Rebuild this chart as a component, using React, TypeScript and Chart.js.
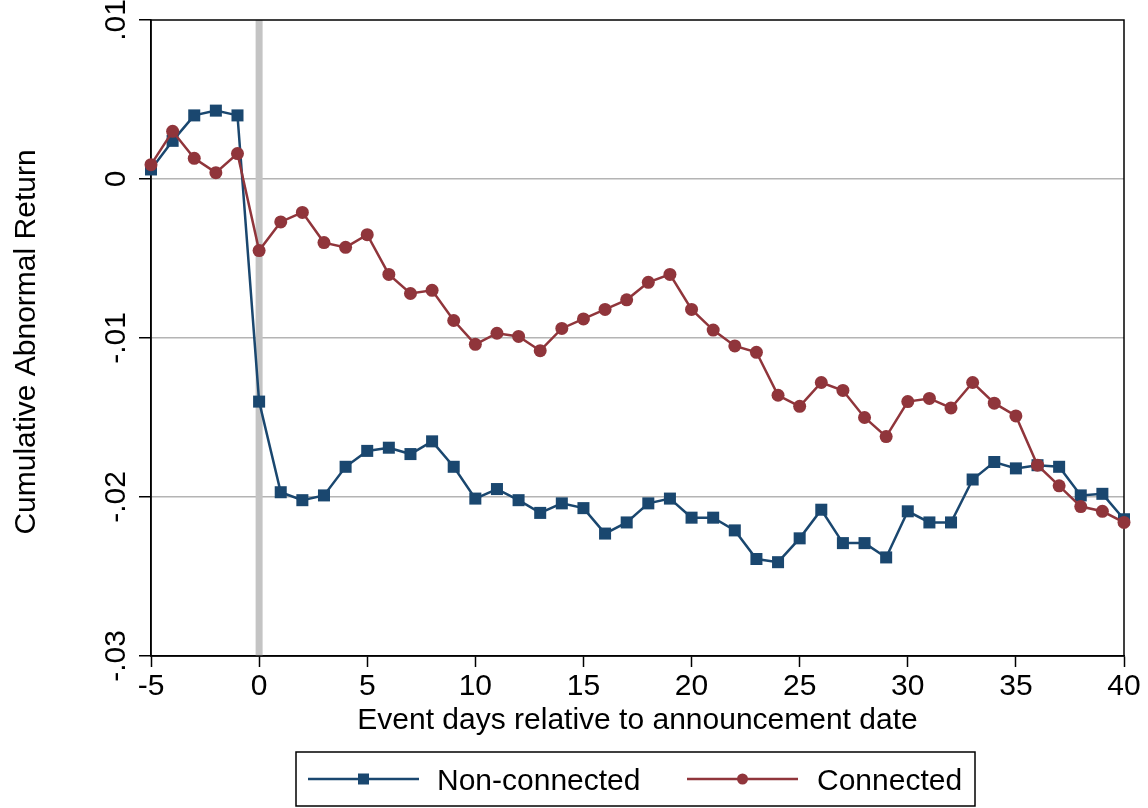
import React, { useEffect, useRef } from 'react';
import { Chart, registerables } from 'chart.js';

Chart.register(...registerables);

const eventDays = [-5, -4, -3, -2, -1, 0, 1, 2, 3, 4, 5, 6, 7, 8, 9, 10, 11, 12, 13, 14, 15, 16, 17, 18, 19, 20, 21, 22, 23, 24, 25, 26, 27, 28, 29, 30, 31, 32, 33, 34, 35, 36, 37, 38, 39, 40];

const nonConnected = [
  0.0006, 0.0024, 0.004, 0.0043, 0.004,
  -0.014, -0.0197, -0.0202, -0.0199, -0.0181, -0.0171, -0.0169, -0.0173, -0.0165, -0.0181,
  -0.0201, -0.0195, -0.0202, -0.021, -0.0204, -0.0207, -0.0223, -0.0216, -0.0204, -0.0201,
  -0.0213, -0.0213, -0.0221, -0.0239, -0.0241, -0.0226, -0.0208, -0.0229, -0.0229, -0.0238,
  -0.0209, -0.0216, -0.0216, -0.0189, -0.0178, -0.0182, -0.018, -0.0181, -0.0199, -0.0198,
  -0.0214,
];

const connected = [
  0.0009, 0.003, 0.0013, 0.0004, 0.0016,
  -0.0045, -0.0027, -0.0021, -0.004, -0.0043, -0.0035, -0.006, -0.0072, -0.007, -0.0089,
  -0.0104, -0.0097, -0.0099, -0.0108, -0.0094, -0.0088, -0.0082, -0.0076, -0.0065, -0.006,
  -0.0082, -0.0095, -0.0105, -0.0109, -0.0136, -0.0143, -0.0128, -0.0133, -0.015, -0.0162,
  -0.014, -0.0138, -0.0144, -0.0128, -0.0141, -0.0149, -0.018, -0.0193, -0.0206, -0.0209,
  -0.0216,
];

const seriesNames = ['Non-connected', 'Connected'];
const yTickValues = [0.01, 0, -0.01, -0.02, -0.03];
const yTickLabels = ['.01', '0', '-.01', '-.02', '-.03'];
const xTitle = 'Event days relative to announcement date';
const yTitle = 'Cumulative Abnormal Return';
const announcementDay = 0;

const BLUE = '#1a476f';
const RED = '#90353b';
const FONT = '"Liberation Sans", Arial, sans-serif';
const FS = 30;

const decor = {
  id: 'decor',
  beforeDatasetsDraw(chart: any) {
    const { ctx, chartArea, scales } = chart;
    const x0 = scales.x.getPixelForValue(announcementDay);
    ctx.save();
    ctx.strokeStyle = '#c4c4c4';
    ctx.lineWidth = 7;
    ctx.beginPath();
    ctx.moveTo(x0, chartArea.top);
    ctx.lineTo(x0, chartArea.bottom);
    ctx.stroke();
    ctx.strokeStyle = '#000';
    ctx.lineWidth = 1.5;
    ctx.strokeRect(chartArea.left, chartArea.top, chartArea.right - chartArea.left, chartArea.bottom - chartArea.top);
    ctx.restore();
  },
  afterDraw(chart: any) {
    const { ctx, chartArea, scales } = chart;
    ctx.save();
    ctx.fillStyle = '#000';
    ctx.font = `${FS}px ${FONT}`;
    // y tick labels, rotated
    yTickValues.forEach((v, i) => {
      const y = scales.y.getPixelForValue(v);
      ctx.save();
      ctx.translate(125, y);
      ctx.rotate(-Math.PI / 2);
      ctx.textAlign = 'center';
      ctx.textBaseline = 'alphabetic';
      ctx.fillText(yTickLabels[i], 0, 0);
      ctx.restore();
    });
    // y title
    ctx.save();
    ctx.translate(35, (chartArea.top + chartArea.bottom) / 2 + 4);
    ctx.rotate(-Math.PI / 2);
    ctx.textAlign = 'center';
    ctx.textBaseline = 'alphabetic';
    ctx.fillText(yTitle, 0, 0);
    ctx.restore();
    // x title
    ctx.textAlign = 'center';
    ctx.textBaseline = 'alphabetic';
    ctx.fillText(xTitle, (chartArea.left + chartArea.right) / 2, 729);
    // legend
    const bx = 296, by = 752, bw = 679, bh = 54;
    ctx.strokeStyle = '#000';
    ctx.lineWidth = 1.5;
    ctx.strokeRect(bx, by, bw, bh);
    const cy = 779;
    const items = [
      { name: seriesNames[0], color: BLUE, shape: 'rect', x1: 308, x2: 419, tx: 437 },
      { name: seriesNames[1], color: RED, shape: 'circle', x1: 687, x2: 798, tx: 817 },
    ];
    items.forEach((it) => {
      ctx.strokeStyle = it.color;
      ctx.lineWidth = 2.5;
      ctx.beginPath();
      ctx.moveTo(it.x1, cy);
      ctx.lineTo(it.x2, cy);
      ctx.stroke();
      ctx.fillStyle = it.color;
      const mx = (it.x1 + it.x2) / 2;
      if (it.shape === 'rect') {
        ctx.fillRect(mx - 5.5, cy - 5.5, 11, 11);
      } else {
        ctx.beginPath();
        ctx.arc(mx, cy, 5.5, 0, Math.PI * 2);
        ctx.fill();
      }
      ctx.fillStyle = '#000';
      ctx.textAlign = 'left';
      ctx.textBaseline = 'alphabetic';
      ctx.fillText(it.name, it.tx, cy + 11);
    });
    ctx.restore();
  },
};

export default function App() {
  const ref = useRef<HTMLCanvasElement | null>(null);
  useEffect(() => {
    document.body.style.margin = '0';
    const canvas = ref.current!;
    const chart = new Chart(canvas, {
      type: 'line',
      data: {
        datasets: [
          {
            label: seriesNames[1],
            data: eventDays.map((d, i) => ({ x: d, y: connected[i] })),
            borderColor: RED,
            backgroundColor: RED,
            borderWidth: 2.5,
            pointStyle: 'circle',
            pointRadius: 6.5,
            pointBorderWidth: 0,
            pointBackgroundColor: RED,
            tension: 0,
            clip: false,
            order: 0,
          },
          {
            label: seriesNames[0],
            data: eventDays.map((d, i) => ({ x: d, y: nonConnected[i] })),
            borderColor: BLUE,
            backgroundColor: BLUE,
            borderWidth: 2.5,
            pointStyle: 'rect',
            pointRadius: 8.5,
            pointBorderWidth: 0,
            pointBackgroundColor: BLUE,
            tension: 0,
            clip: false,
            order: 1,
          },
        ],
      },
      options: {
        animation: false,
        responsive: false,
        events: [],
        layout: { padding: { top: 20, right: 24, left: 0, bottom: 0 } },
        plugins: { legend: { display: false }, tooltip: { enabled: false } },
        scales: {
          x: {
            type: 'linear',
            min: -5,
            max: 40,
            ticks: {
              stepSize: 5,
              color: '#000',
              font: { family: FONT, size: FS },
              padding: 2,
              maxRotation: 0,
            },
            grid: { drawOnChartArea: false, drawTicks: true, tickLength: 11, tickColor: '#000', tickWidth: 1.5 },
            border: { display: true, color: '#000', width: 1.5 },
            afterFit: (s: any) => { s.height = 152; },
          },
          y: {
            type: 'linear',
            min: -0.03,
            max: 0.01,
            ticks: { stepSize: 0.01, display: false },
            grid: {
              drawTicks: true,
              tickLength: 12,
              tickColor: '#000',
              tickWidth: 1.5,
              lineWidth: 1.5,
              color: (c: any) => {
                const v = c.tick ? c.tick.value : null;
                if (v === null || Math.abs(v - 0.01) < 1e-9 || Math.abs(v + 0.03) < 1e-9) return 'rgba(0,0,0,0)';
                return '#b4b4b4';
              },
            },
            border: { display: true, color: '#000', width: 1.5 },
            afterFit: (s: any) => { s.width = 151; },
          },
        },
      },
      plugins: [decor],
    });
    return () => chart.destroy();
  }, []);
  return (
    <div style={{ width: 1148, height: 808 }}>
      <canvas ref={ref} width={1148} height={808} style={{ display: 'block' }} />
    </div>
  );
}
